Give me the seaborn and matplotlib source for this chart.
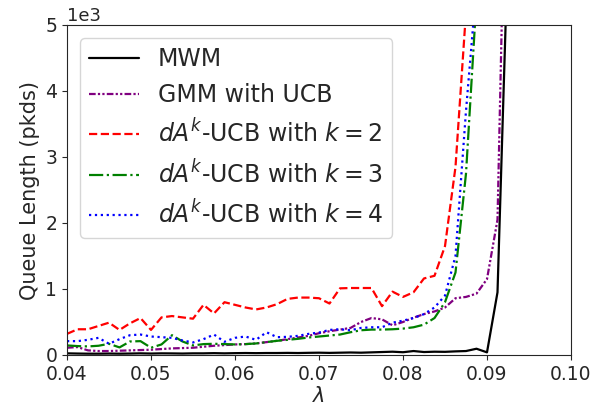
import numpy as np
import pandas as pd
import matplotlib
matplotlib.use("Agg")
import matplotlib.pyplot as plt
import seaborn as sns

# Arrival rate grid (step 0.00125)
lam = [0.04, 0.04125, 0.0425, 0.04375, 0.045, 0.04625, 0.0475, 0.04875,
       0.05, 0.05125, 0.0525, 0.05375, 0.055, 0.05625, 0.0575, 0.05875,
       0.06, 0.06125, 0.0625, 0.06375, 0.065, 0.06625, 0.0675, 0.06875,
       0.07, 0.07125, 0.0725, 0.07375, 0.075, 0.07625, 0.0775, 0.07875,
       0.08, 0.08125, 0.0825, 0.08375, 0.085, 0.08625, 0.0875, 0.08875,
       0.09, 0.09125, 0.0925]

# Average queue length per policy (packets)
mwm = [25, 22, 20, 20, 22, 20, 22, 25, 22, 25, 24, 22, 25, 25, 28, 25,
       28, 30, 28, 30, 30, 32, 30, 33, 35, 32, 35, 38, 35, 40, 45, 50,
       42, 60, 45, 50, 48, 55, 60, 95, 40, 950, 6200]
gmm_ucb = [110, 120, 70, 60, 60, 65, 70, 75, 80, 90, 100, 105, 110, 125,
           140, 150, 160, 165, 175, 195, 215, 240, 265, 290, 330, 360, 385,
           410, 500, 560, 540, 450, 500, 565, 620, 660, 720, 860, 880, 930,
           1150, 2050, 9400]
dak_k2 = [320, 390, 390, 440, 490, 380, 480, 560, 380, 570, 590, 570, 550,
          760, 630, 800, 760, 720, 690, 720, 770, 850, 870, 870, 860, 780,
          1010, 1015, 1015, 1015, 740, 960, 880, 950, 1160, 1200, 1650,
          2850, 5200]
dak_k3 = [145, 135, 130, 140, 170, 115, 205, 210, 110, 160, 300, 205, 145,
          165, 170, 165, 160, 165, 175, 195, 215, 230, 245, 265, 280, 295,
          310, 345, 375, 385, 385, 390, 400, 420, 460, 560, 800, 1250, 2750,
          5400]
dak_k4 = [210, 210, 230, 260, 170, 240, 300, 310, 280, 270, 260, 220, 190,
          240, 310, 200, 260, 280, 230, 345, 270, 275, 290, 320, 340, 380,
          390, 375, 410, 420, 420, 490, 520, 560, 620, 720, 900, 1500, 3700,
          5600]

labels = ["MWM", "GMM with UCB", r"$dA^k$-UCB with $k=2$",
          r"$dA^k$-UCB with $k=3$", r"$dA^k$-UCB with $k=4$"]
series = [mwm, gmm_ucb, dak_k2, dak_k3, dak_k4]
colors = ["black", "purple", "red", "green", "blue"]
styles = ["-", (0, (3, 1, 1, 1, 1, 1)), "--", "-.", ":"]

sns.set_style("ticks")
plt.rcParams["font.family"] = ["DejaVu Sans"]
plt.rcParams["mathtext.fontset"] = "dejavusans"

fig = plt.figure(figsize=(5.94, 4.16), dpi=100)
ax = fig.add_axes([67 / 594, 1 - 355 / 416, (571 - 67) / 594, (355 - 25) / 416])

for vals, lab, col, ls in zip(series, labels, colors, styles):
    df = pd.DataFrame({"lam": lam[:len(vals)], "q": vals})
    sns.lineplot(data=df, x="lam", y="q", ax=ax, color=col, label=lab,
                 linestyle=ls, linewidth=1.6)

ax.set_xlim(0.04, 0.10)
ax.set_ylim(0, 5000)
ax.set_xticks([0.04, 0.05, 0.06, 0.07, 0.08, 0.09, 0.10])
ax.set_xticklabels(["0.04", "0.05", "0.06", "0.07", "0.08", "0.09", "0.10"])
ax.ticklabel_format(axis="y", style="sci", scilimits=(3, 3))
ax.yaxis.get_offset_text().set_fontsize(13)
ax.tick_params(labelsize=13.5)
ax.set_xlabel(r"$\lambda$", fontsize=15, labelpad=2)
ax.set_ylabel("Queue Length (pkds)", fontsize=15)

ax.legend(loc="upper left", fontsize=17, frameon=True, handlelength=2.1,
          borderaxespad=0.55, labelspacing=0.5)

fig.savefig("out.png", dpi=100)
